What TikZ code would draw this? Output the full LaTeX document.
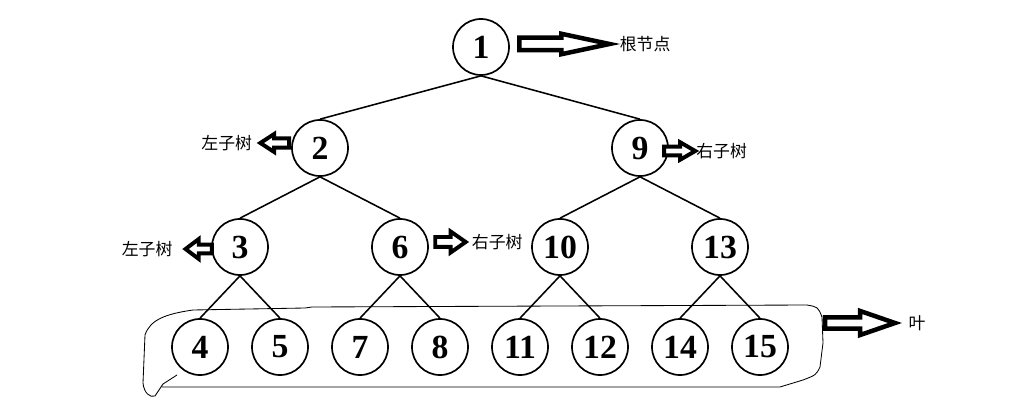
\documentclass[tikz,border=0pt]{standalone}
\usepackage{fontspec}
\setmainfont{Liberation Serif}
\newfontfamily\cjk{Noto Sans CJK SC}
\usetikzlibrary{shapes.arrows,positioning}
\tikzset{
    % Tree node - plain circle with bold number
    treenode/.style={
        circle,
        draw=black,
        fill=white,
        line width=1.2pt,
        minimum size=1.4cm,
        inner sep=0pt,
        font=\fontsize{24}{26}\selectfont\bfseries
    },
    % Tree edge
    treeedge/.style={
        draw=black,
        line width=1.1pt
    },
    % Hollow block arrow
    blockarrow/.style={
        single arrow,
        draw=black,
        fill=white,
        line width=2.8pt,
        inner xsep=0pt,
        outer sep=0pt
    },
    % Chinese caption
    caption/.style={
        inner sep=0pt,
        font=\cjk\fontsize{12}{14}\selectfont
    },
    % Freehand outline round the leaves
    leafline/.style={
        draw=black,
        line width=0.6pt,
        line join=round
    }
}
\begin{document}
\begin{tikzpicture}[x=0.025cm,y=-0.025cm]

    \useasboundingbox (0,0) rectangle (1020,400);

    % ========== TREE NODES ==========
    \node[treenode] (n1) at (481,47) {1};

    \node[treenode] (n2) at (320,148) {2};
    \node[treenode] (n9) at (640,148) {9};

    \node[treenode] (n3) at (240,247) {3};
    \node[treenode] (n6) at (400,247) {6};
    \node[treenode] (n10) at (560,247) {10};
    \node[treenode] (n13) at (720,247) {13};

    \node[treenode] (n4) at (200,347) {4};
    \node[treenode] (n5) at (280,347) {5};
    \node[treenode] (n7) at (360,347) {7};
    \node[treenode] (n8) at (440,347) {8};
    \node[treenode] (n11) at (520,347) {11};
    \node[treenode] (n12) at (600,347) {12};
    \node[treenode] (n14) at (680,347) {14};
    \node[treenode] (n15) at (760,347) {15};

    % ========== EDGES ==========
    \draw[treeedge] (n1.south) -- (n2.north);
    \draw[treeedge] (n1.south) -- (n9.north);

    \draw[treeedge] (n2.south) -- (n3.north);
    \draw[treeedge] (n2.south) -- (n6.north);
    \draw[treeedge] (n9.south) -- (n10.north);
    \draw[treeedge] (n9.south) -- (n13.north);

    \draw[treeedge] (n3.south) -- (n4.north);
    \draw[treeedge] (n3.south) -- (n5.north);
    \draw[treeedge] (n6.south) -- (n7.north);
    \draw[treeedge] (n6.south) -- (n8.north);
    \draw[treeedge] (n10.south) -- (n11.north);
    \draw[treeedge] (n10.south) -- (n12.north);
    \draw[treeedge] (n13.south) -- (n14.north);
    \draw[treeedge] (n13.south) -- (n15.north);

    % ========== LEAF OUTLINE ==========
    \draw[leafline] (162,387) -- (780,387) -- (803,380)
        .. controls (816,375) .. (820,367) -- (823,343) -- (822,317)
        .. controls (818,307) .. (807,305) -- (312,307) -- (305,308) -- (193,310)
        .. controls (165,314) and (150,320) .. (145,335) -- (143,383)
        .. controls (144,393) and (150,398) .. (155,396) -- (163,384) -- (177,375);

    % ========== BLOCK ARROWS ==========
    \node[blockarrow, line width=3.2pt, minimum height=2.25cm, inner ysep=0.1cm,
          single arrow head extend=0.1cm, single arrow tip angle=24,
          right=0.24cm of n1, yshift=0.075cm] (a1) {};
    \node[blockarrow, minimum height=0.72cm, inner ysep=0.065cm,
          single arrow head extend=0.11cm, single arrow tip angle=66,
          shape border rotate=180, left=0.05cm of n2, yshift=0.125cm] (a2) {};
    \node[blockarrow, minimum height=0.78cm, inner ysep=0.06cm,
          single arrow head extend=0.11cm, single arrow tip angle=60,
          right=-0.12cm of n9, yshift=-0.075cm] (a9) {};
    \node[blockarrow, minimum height=0.66cm, inner ysep=0.06cm,
          single arrow head extend=0.14cm, single arrow tip angle=74,
          shape border rotate=180, left=-0.02cm of n3, yshift=-0.05cm] (a3) {};
    \node[blockarrow, minimum height=0.76cm, inner ysep=0.075cm,
          single arrow head extend=0.14cm, single arrow tip angle=70,
          right=0.16cm of n6, yshift=0.125cm] (a6) {};
    \node[blockarrow, line width=3.2pt, minimum height=1.75cm, inner ysep=0.085cm,
          single arrow head extend=0.16cm, single arrow tip angle=38,
          anchor=tail] (aleaf) at (825,323) {};

    % ========== CAPTIONS ==========
    \node[caption, right=0.25cm of a1] (l1) {根节点};
    \node[caption, left=0.2cm of a2] (l2) {左子树};
    \node[caption, right=0.02cm of a9] (l9) {右子树};
    \node[caption, left=0.32cm of a3] (l3) {左子树};
    \node[caption, right=0.15cm of a6] (l6) {右子树};
    \node[caption, right=0.33cm of aleaf] (lleaf) {叶};

\end{tikzpicture}
\end{document}
